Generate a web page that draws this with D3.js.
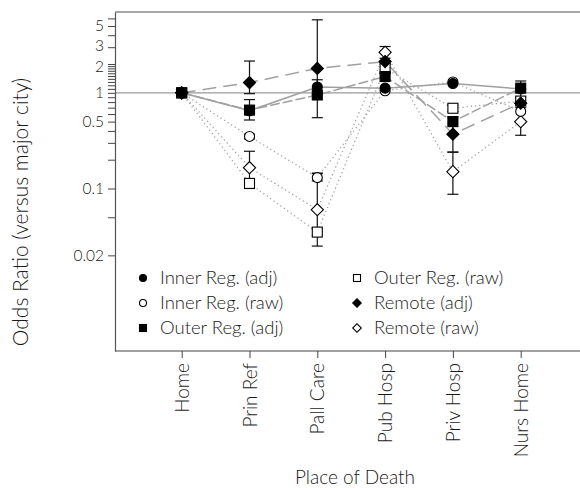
<!DOCTYPE html>
<html><head><meta charset="utf-8">
<script src="https://cdn.jsdelivr.net/npm/d3@7"></script>
<style>
body{margin:0;background:#fff}
svg{display:block}
text{font-family:Lato,"Open Sans",sans-serif;font-weight:300;fill:#1a1a1a}
</style>
</head><body><svg id="c" width="580" height="488"></svg>
<script>
const categories = ["Home","Prin Ref","Pall Care","Pub Hosp","Priv Hosp","Nurs Home"];
const seriesNames = ["Inner Reg. (adj)","Inner Reg. (raw)","Outer Reg. (adj)","Outer Reg. (raw)","Remote (adj)","Remote (raw)"];
const innerAdj  = [1, 0.65, 1.15, 1.12, 1.25, 1.10];
const innerRaw  = [1, 0.35, 0.13, 1.05, 1.30, 0.64];
const outerAdj  = [1, 0.66, 0.95, 1.48, 0.50, 1.12];
const outerRaw  = [1, 0.113, 0.035, 1.80, 0.69, 0.82];
const remoteAdj = [1, 1.28, 1.80, 2.12, 0.37, 0.78];
const remoteRaw = [1, 0.165, 0.060, 2.65, 0.15, 0.50];
// confidence intervals [low, high] (null = not shown)
const innerAdjCI  = [null, null, [0.97, 1.37], null, null, null];
const innerRawCI  = [null, [0.33, 0.37], [0.12, 0.143], null, null, null];
const outerAdjCI  = [null, [0.52, 0.85], null, null, null, [0.9, 1.33]];
const outerRawCI  = [null, [0.10, 0.125], [0.032, 0.038], [1.6, 2.0], [0.64, 0.74], null];
const remoteAdjCI = [null, [0.98, 2.15], [0.55, 5.8], null, [0.24, 0.56], null];
const remoteRawCI = [null, [0.105, 0.245], [0.025, 0.145], [2.3, 3.05], [0.087, 0.24], [0.36, 0.70]];
const yLabeled = [5, 3, 2, 1, 0.5, 0.1, 0.02];
const yMinor = [6, 4, 1.9, 1.8, 1.7, 1.6, 1.5, 1.4, 1.3, 1.2, 1.1, 0.9, 0.8, 0.7, 0.6, 0.4, 0.3, 0.2, 0.05];

const svg = d3.select("#c");
const L = 115, R = 580, T = 12, B = 351;
const x = d3.scalePoint().domain(categories).range([181.7, 520.7]);
const y = d3.scaleLog().domain([0.002, 7]).range([B, T]);

const lineCol = "#a0a0a0";
const series = [
  {name: seriesNames[5], v: remoteRaw, ci: remoteRawCI, shape: "diamond", fill: "#fff", dash: "1.2,3"},
  {name: seriesNames[3], v: outerRaw, ci: outerRawCI, shape: "square", fill: "#fff", dash: "1.2,3"},
  {name: seriesNames[1], v: innerRaw, ci: innerRawCI, shape: "circle", fill: "#fff", dash: "1.2,3"},
  {name: seriesNames[4], v: remoteAdj, ci: remoteAdjCI, shape: "diamond", fill: "#000", dash: "14,7"},
  {name: seriesNames[2], v: outerAdj, ci: outerAdjCI, shape: "square", fill: "#000", dash: "10,3"},
  {name: seriesNames[0], v: innerAdj, ci: innerAdjCI, shape: "circle", fill: "#000", dash: null}
];

// top border
svg.append("line").attr("x1", L).attr("x2", R).attr("y1", T).attr("y2", T)
  .attr("stroke", "#8a8a8a").attr("stroke-width", 1.6);
// reference line at 1
svg.append("line").attr("x1", L).attr("x2", R).attr("y1", y(1)).attr("y2", y(1))
  .attr("stroke", "#9a9a9a").attr("stroke-width", 1.3);

// y axis
const yAxis = d3.axisLeft(y).tickValues(yLabeled.concat(yMinor))
  .tickFormat(d => yLabeled.includes(d) ? String(d) : "").tickSize(7).tickSizeOuter(0);
const gy = svg.append("g").attr("transform", `translate(${L},0)`).call(yAxis);
gy.select(".domain").attr("stroke", "#555").attr("stroke-width", 1.2);
gy.selectAll(".tick line").attr("stroke", "#444");
gy.selectAll(".tick text").attr("font-size", 15.5).attr("x", -11)
  .attr("dy", d => d === 3 ? "0.2em" : d === 2 ? "0.45em" : "0.32em")
  .style("font-family", "Lato").style("font-weight", 300).attr("fill", "#1a1a1a");

// x axis
svg.append("line").attr("x1", L).attr("x2", R).attr("y1", B).attr("y2", B)
  .attr("stroke", "#444").attr("stroke-width", 1.2);
const xAxis = d3.axisBottom(x).tickSize(7).tickSizeOuter(0);
const gx = svg.append("g").attr("transform", `translate(0,${B})`).call(xAxis);
gx.select(".domain").remove();
gx.selectAll(".tick line").attr("stroke", "#444");
gx.selectAll(".tick text").attr("font-size", 19).attr("text-anchor", "end")
  .attr("transform", "rotate(-90)").attr("x", -12).attr("y", 0).attr("dy", "0.35em")
  .style("font-family", "Lato").style("font-weight", 300).attr("fill", "#1a1a1a");

// lines
const lineGen = d3.line().x((d, i) => x(categories[i])).y(d => y(d));
series.forEach(s => {
  svg.append("path").datum(s.v).attr("d", lineGen).attr("fill", "none")
    .attr("stroke", lineCol).attr("stroke-width", s.dash && s.dash.startsWith("1.2") ? 1.3 : 1.5)
    .attr("stroke-dasharray", s.dash);
});

// error bars
series.forEach(s => {
  s.ci.forEach((c, i) => {
    if (!c) return;
    const cx = x(categories[i]);
    const g = svg.append("g").attr("stroke", "#111").attr("stroke-width", 1.2);
    g.append("line").attr("x1", cx).attr("x2", cx).attr("y1", y(c[0])).attr("y2", y(c[1]));
    g.append("line").attr("x1", cx - 5.5).attr("x2", cx + 5.5).attr("y1", y(c[0])).attr("y2", y(c[0]));
    g.append("line").attr("x1", cx - 5.5).attr("x2", cx + 5.5).attr("y1", y(c[1])).attr("y2", y(c[1]));
  });
});

function marker(g, shape, fill, scale) {
  let p;
  if (shape === "circle") p = g.append("circle").attr("r", 5 * scale);
  else if (shape === "square") p = g.append("rect").attr("x", -5 * scale).attr("y", -5 * scale)
    .attr("width", 10 * scale).attr("height", 10 * scale);
  else p = g.append("rect").attr("x", -4.3 * scale).attr("y", -4.3 * scale)
    .attr("width", 8.6 * scale).attr("height", 8.6 * scale).attr("transform", "rotate(45)");
  p.attr("fill", fill).attr("stroke", "#000").attr("stroke-width", 1.1);
}

series.forEach(s => {
  s.v.forEach((v, i) => {
    const g = svg.append("g").attr("transform", `translate(${x(categories[i])},${y(v)})`);
    marker(g, s.shape, s.fill, 1);
  });
});

// legend
const legendItems = [
  {name: seriesNames[0], shape: "circle", fill: "#000", col: 0, row: 0},
  {name: seriesNames[1], shape: "circle", fill: "#fff", col: 0, row: 1},
  {name: seriesNames[2], shape: "square", fill: "#000", col: 0, row: 2},
  {name: seriesNames[3], shape: "square", fill: "#fff", col: 1, row: 0},
  {name: seriesNames[4], shape: "diamond", fill: "#000", col: 1, row: 1},
  {name: seriesNames[5], shape: "diamond", fill: "#fff", col: 1, row: 2}
];
legendItems.forEach(d => {
  const mx = d.col === 0 ? 143 : 357;
  const my = 278 + d.row * 25;
  const g = svg.append("g").attr("transform", `translate(${mx},${my})`);
  marker(g, d.shape, d.fill, 0.7);
  svg.append("text").attr("x", mx + 17).attr("y", my).attr("dy", "0.35em")
    .attr("font-size", 18.5).text(d.name);
});

// axis titles
svg.append("text").attr("x", 355).attr("y", 484).attr("text-anchor", "middle")
  .attr("font-size", 19).text("Place of Death");
svg.append("text").attr("transform", "translate(28,212) rotate(-90)").attr("text-anchor", "middle")
  .attr("font-size", 21).text("Odds Ratio (versus major city)");
</script>
</body></html>
